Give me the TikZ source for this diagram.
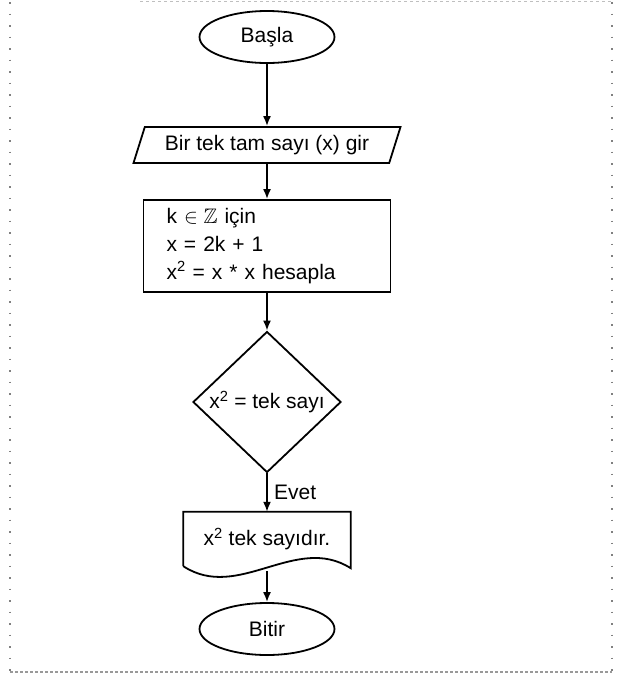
\documentclass[tikz,border=0pt]{standalone}
\usepackage{amssymb}
\usepackage{fontspec}
\setmainfont{Liberation Sans}
\usetikzlibrary{shapes.geometric,calc,arrows.meta}

\begin{document}
\begin{tikzpicture}[x=1pt, y=-1pt,
  every node/.style={font=\fontsize{21}{28}\selectfont},
  term/.style={draw, ellipse, line width=1.8pt, minimum width=135pt, minimum height=52pt, inner sep=0pt},
  inout/.style={draw, trapezium, trapezium left angle=60, trapezium right angle=120, trapezium stretches body, line width=1.8pt, minimum width=267pt, minimum height=36pt, inner sep=0pt},
  proc/.style={draw, rectangle, line width=1.8pt, text width=201pt, align=left, inner xsep=23pt, inner ysep=0pt, minimum height=92pt},
  decision/.style={draw, diamond, line width=1.8pt, minimum width=148pt, minimum height=141pt, inner sep=0pt},
  docbox/.style={rectangle, minimum width=167pt, minimum height=54pt, inner sep=0pt},
  arr/.style={line width=1.8pt, -{Latex[length=10pt,width=8pt]}},
  frameline/.style={gray, line width=1.4pt, dash pattern=on 1.5pt off 10pt}]
  \useasboundingbox (0,0) rectangle (627,675);
  \draw[frameline] (10,2) -- (10,672);
  \draw[frameline] (612,2) -- (612,672);
  \draw[gray!80, line width=1.2pt, dash pattern=on 3pt off 2pt] (10,672) -- (612,672);
  \draw[lightgray, line width=1pt, dash pattern=on 3pt off 3pt] (140,1) -- (612,1);
  \node[term] (basla) at (267,37) {Başla};
  \node[inout] (gir) at (267,145) {Bir tek tam sayı (x) gir};
  \node[proc] (hesap) at (267,246) {k $\in\mathbb{Z}$ için\\x = 2k + 1\\x\textsuperscript{2} = x * x hesapla};
  \node[decision, label={center:x\textsuperscript{2} = tek sayı}] (kosul) at (267,402) {};
  \node[docbox] (cikti) at (267,539) {x\textsuperscript{2} tek sayıdır.};
  \draw[line width=1.8pt] (cikti.south west) -- (cikti.north west) -- (cikti.north east) -- ($(cikti.south east)+(0,2)$)
    .. controls ($(cikti.south east)+(-55,-33)$) and ($(cikti.south west)+(55,36)$) .. (cikti.south west);
  \coordinate (ciktialt) at ($(cikti.south)+(0,5)$);
  \node[term] (bitir) at (267,629) {Bitir};
  \draw[arr] (basla) -- (gir);
  \draw[arr] (gir) -- (hesap);
  \draw[arr] (hesap) -- (kosul);
  \draw[arr] (kosul) -- node[right, xshift=3pt] {Evet} (cikti);
  \draw[arr] (ciktialt) -- (bitir);
\end{tikzpicture}
\end{document}
